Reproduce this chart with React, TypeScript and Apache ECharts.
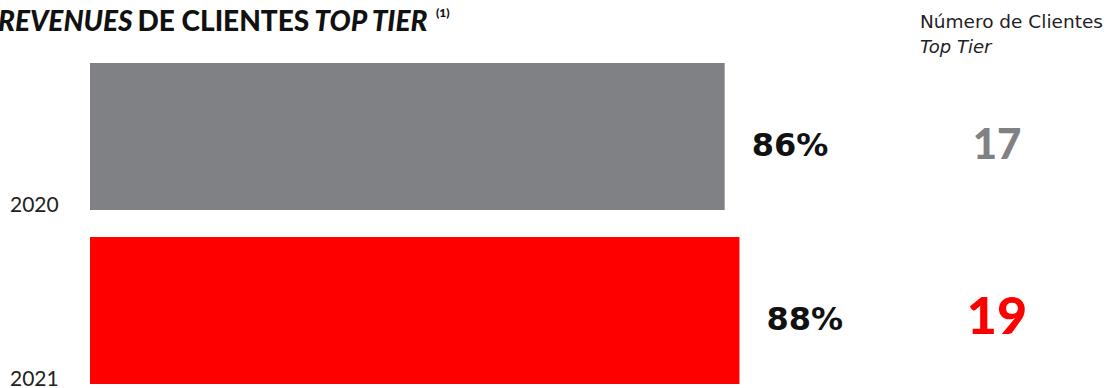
import React, { useEffect, useRef } from "react";
import * as echarts from "echarts";

const years = ["2020", "2021"];
const revenueShare = [86, 88];
const clientCounts = [17, 19];
const barColors = ["#808184", "#ff0000"];

export default function App() {
  const ref = useRef<HTMLDivElement>(null);
  useEffect(() => {
    if (!ref.current) return;
    const chart = echarts.init(ref.current, null, { renderer: "svg" });
    const font = "Lato";
    const wide = "DejaVu Sans";
    chart.setOption({
      animation: false,
      title: {
        left: -7,
        top: 1,
        text: "{i|REVENUES} {b|DE CLIENTES} {i|TOP TIER} {s|(1)}",
        textStyle: {
          rich: {
            i: { fontFamily: font, fontSize: 28, fontWeight: 900, fontStyle: "italic", color: "#111" },
            b: { fontFamily: font, fontSize: 28, fontWeight: 900, color: "#111" },
            s: { fontFamily: font, fontSize: 12, fontWeight: 900, color: "#111", verticalAlign: "top", padding: [0, 0, 12, 2] },
          },
        },
      },
      graphic: [
        { type: "text", left: 920, top: 12, style: { text: "Número de Clientes", fontFamily: wide, fontSize: 18.5, fill: "#222" } },
        { type: "text", left: 920, top: 37, style: { text: "Top Tier", fontFamily: wide, fontSize: 18, fontStyle: "italic", fill: "#222" } },
      ],
      grid: { left: 90, top: 136.5, height: 174, width: 738, outerBoundsMode: "none", containLabel: false },
      xAxis: { type: "value", min: 0, max: 100, show: false },
      yAxis: [
        {
          type: "category",
          data: years,
          inverse: true,
          boundaryGap: false,
          axisLine: { show: false },
          axisTick: { show: false },
          splitLine: { show: false },
          axisLabel: {
            align: "left",
            margin: 80,
            verticalAlign: "top",
            padding: [56, 0, 0, 0],
            fontFamily: font,
            fontSize: 21,
            color: "#222",
          },
        },
        {
          type: "category",
          data: clientCounts.map(String),
          inverse: true,
          boundaryGap: false,
          position: "right",
          axisLine: { show: false },
          axisTick: { show: false },
          splitLine: { show: false },
          axisLabel: {
            align: "center",
            margin: 169,
            formatter: (v: string, i: number) => `{${i === 0 ? "a" : "b"}|${v}}`,
            rich: {
              a: { fontFamily: font, fontSize: 42, fontWeight: 900, color: "#808184", padding: [12, 0, 0, 0] },
              b: { fontFamily: font, fontSize: 52, fontWeight: 900, color: "#ff0000", padding: [6, 0, 0, 0] },
            },
          },
        },
      ],
      series: [
        {
          type: "bar",
          yAxisIndex: 0,
          barWidth: 147,
          data: revenueShare.map((v, i) => ({ value: v, itemStyle: { color: barColors[i] } })),
          label: {
            show: true,
            position: "right",
            distance: 27,
            offset: [0, 8],
            formatter: "{c}%",
            fontFamily: wide,
            fontSize: 32,
            fontWeight: "bold",
            color: "#111",
          },
        },
      ],
    });
    return () => chart.dispose();
  }, []);
  return <div ref={ref} style={{ width: 1119, height: 388, position: "absolute", left: 0, top: 0 }} />;
}
